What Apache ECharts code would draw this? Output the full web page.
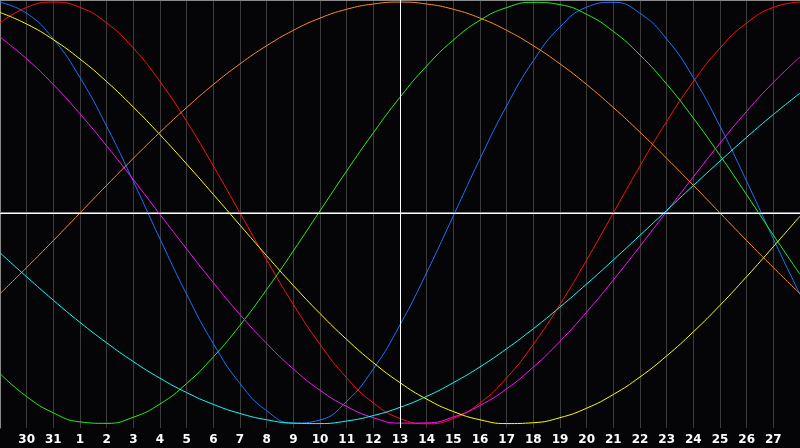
<!DOCTYPE html>
<html>
<head>
<meta charset="utf-8">
<script src="https://cdn.jsdelivr.net/npm/echarts@6/dist/echarts.min.js"></script>
<style>
html,body{margin:0;padding:0;background:#050508;}
#chart{width:800px;height:448px;}
</style>
</head>
<body>
<div id="chart"></div>
<script>
var days = ['29','30','31','1','2','3','4','5','6','7','8','9','10','11','12','13','14','15','16','17','18','19','20','21','22','23','24','25','26','27','28'];
var todayLabel = '13';
var physical = [99.9,94.7,82.5,64.2,41.1,15.0,-12.3,-38.6,-62.0,-80.9,-93.8,-99.7,-98.2,-89.4,-74.0,-53.1,-28.3,-1.4,25.7,50.8,72.2,88.2,97.6,99.9,94.7,82.5,64.2,41.1,15.0,-12.3,-38.6];
var emotional = [90.1,97.5,100,97.5,90.1,78.2,62.3,43.4,22.3,0,-22.3,-43.4,-62.3,-78.2,-90.1,-97.5,-100,-97.5,-90.1,-78.2,-62.3,-43.4,-22.3,0,22.3,43.4,62.3,78.2,90.1,97.5,100];
var intellectual = [-76.2,-87.1,-94.8,-99.1,-99.8,-96.9,-90.6,-80.9,-68.3,-53.3,-36.3,-18.0,1.0,19.9,38.0,54.9,69.7,82.0,91.4,97.4,99.9,98.8,94.2,86.1,74.9,61.1,45.0,27.3,8.6,-10.5,-29.1];
var intuitive = [83.4,73.1,60.9,47.0,31.8,15.8,-0.7,-17.1,-33.1,-48.2,-61.9,-74.0,-84.1,-91.8,-97.1,-99.7,-99.6,-96.8,-91.3,-83.4,-73.1,-60.9,-47.0,-31.8,-15.8,0.7,17.1,33.1,48.2,61.9,74.0];
var aesthetic = [95.1,89.6,82.2,73.0,62.3,50.2,37.1,23.2,8.8,-5.8,-20.3,-34.4,-47.7,-60.0,-71.0,-80.5,-88.3,-94.2,-98.1,-99.9,-99.5,-97.1,-92.6,-86.1,-77.8,-67.8,-56.4,-43.8,-30.2,-16.0,-1.5];
var awareness = [-38.3,-25.9,-13.1,0,13.1,25.9,38.3,50.0,60.9,70.7,79.3,86.6,92.4,96.6,99.1,100,99.1,96.6,92.4,86.6,79.3,70.7,60.9,50.0,38.3,25.9,13.1,0,-13.1,-25.9,-38.3];
var spiritual = [-18.9,-30.3,-41.4,-51.9,-61.6,-70.5,-78.4,-85.2,-90.8,-95.1,-98.1,-99.7,-99.9,-98.7,-96.1,-92.2,-87.0,-80.5,-73.0,-64.4,-54.9,-44.6,-33.7,-22.3,-10.6,1.2,13.0,24.6,35.9,46.7,56.8];

var seriesDefs = [
  {name:'Physical', data:physical, color:'#1a75ff'},
  {name:'Emotional', data:emotional, color:'#ff1010'},
  {name:'Intellectual', data:intellectual, color:'#22f022'},
  {name:'Intuitive', data:intuitive, color:'#ff10ff'},
  {name:'Aesthetic', data:aesthetic, color:'#ffff00'},
  {name:'Awareness', data:awareness, color:'#ff8c1a'},
  {name:'Spiritual', data:spiritual, color:'#10ffff'}
];

var chart = echarts.init(document.getElementById('chart'), null, {renderer:'canvas'});
var last = days.length - 1;
var series = seriesDefs.map(function(s){
  return {
    name:s.name, type:'line', data:s.data, smooth:0.5, symbol:'none',
    lineStyle:{color:s.color, width:1}, itemStyle:{color:s.color},
    z:3, silent:true, animation:false
  };
});
series.push({
  name:'marks', type:'line', data:[], symbol:'none', silent:true, animation:false, z:2,
  markLine:{
    symbol:'none', silent:true, animation:false,
    label:{show:false},
    lineStyle:{color:'#ffffff', width:1, type:'solid'},
    data:[{yAxis:0},{xAxis:todayLabel}]
  }
});

chart.setOption({
  backgroundColor:'#050508',
  animation:false,
  grid:{left:0, right:0, top:0, bottom:20, containLabel:false},
  xAxis:[{
    type:'category', data:days, boundaryGap:false,
    axisLine:{show:true, lineStyle:{color:'#8a8a8a', width:2}},
    axisTick:{show:false},
    axisLabel:{
      color:'#ffffff', fontWeight:'bold', fontSize:12, fontFamily:'DejaVu Sans', margin:6,
      interval:function(i){ return i>0 && i<last; }
    },
    splitLine:{show:true, interval:function(i){ return i>0 && i<last; }, lineStyle:{color:'#3c3c3c', width:1}}
  },{
    type:'category', data:days, boundaryGap:false, position:'top',
    axisLine:{show:true, lineStyle:{color:'#8a8a8a', width:1}},
    axisTick:{show:false}, axisLabel:{show:false}, splitLine:{show:false}
  }],
  yAxis:{
    type:'value', min:-102, max:101,
    axisLine:{show:true, lineStyle:{color:'#8a8a8a', width:1}},
    axisTick:{show:false}, axisLabel:{show:false}, splitLine:{show:false}
  },
  series:series
});
</script>
</body>
</html>
